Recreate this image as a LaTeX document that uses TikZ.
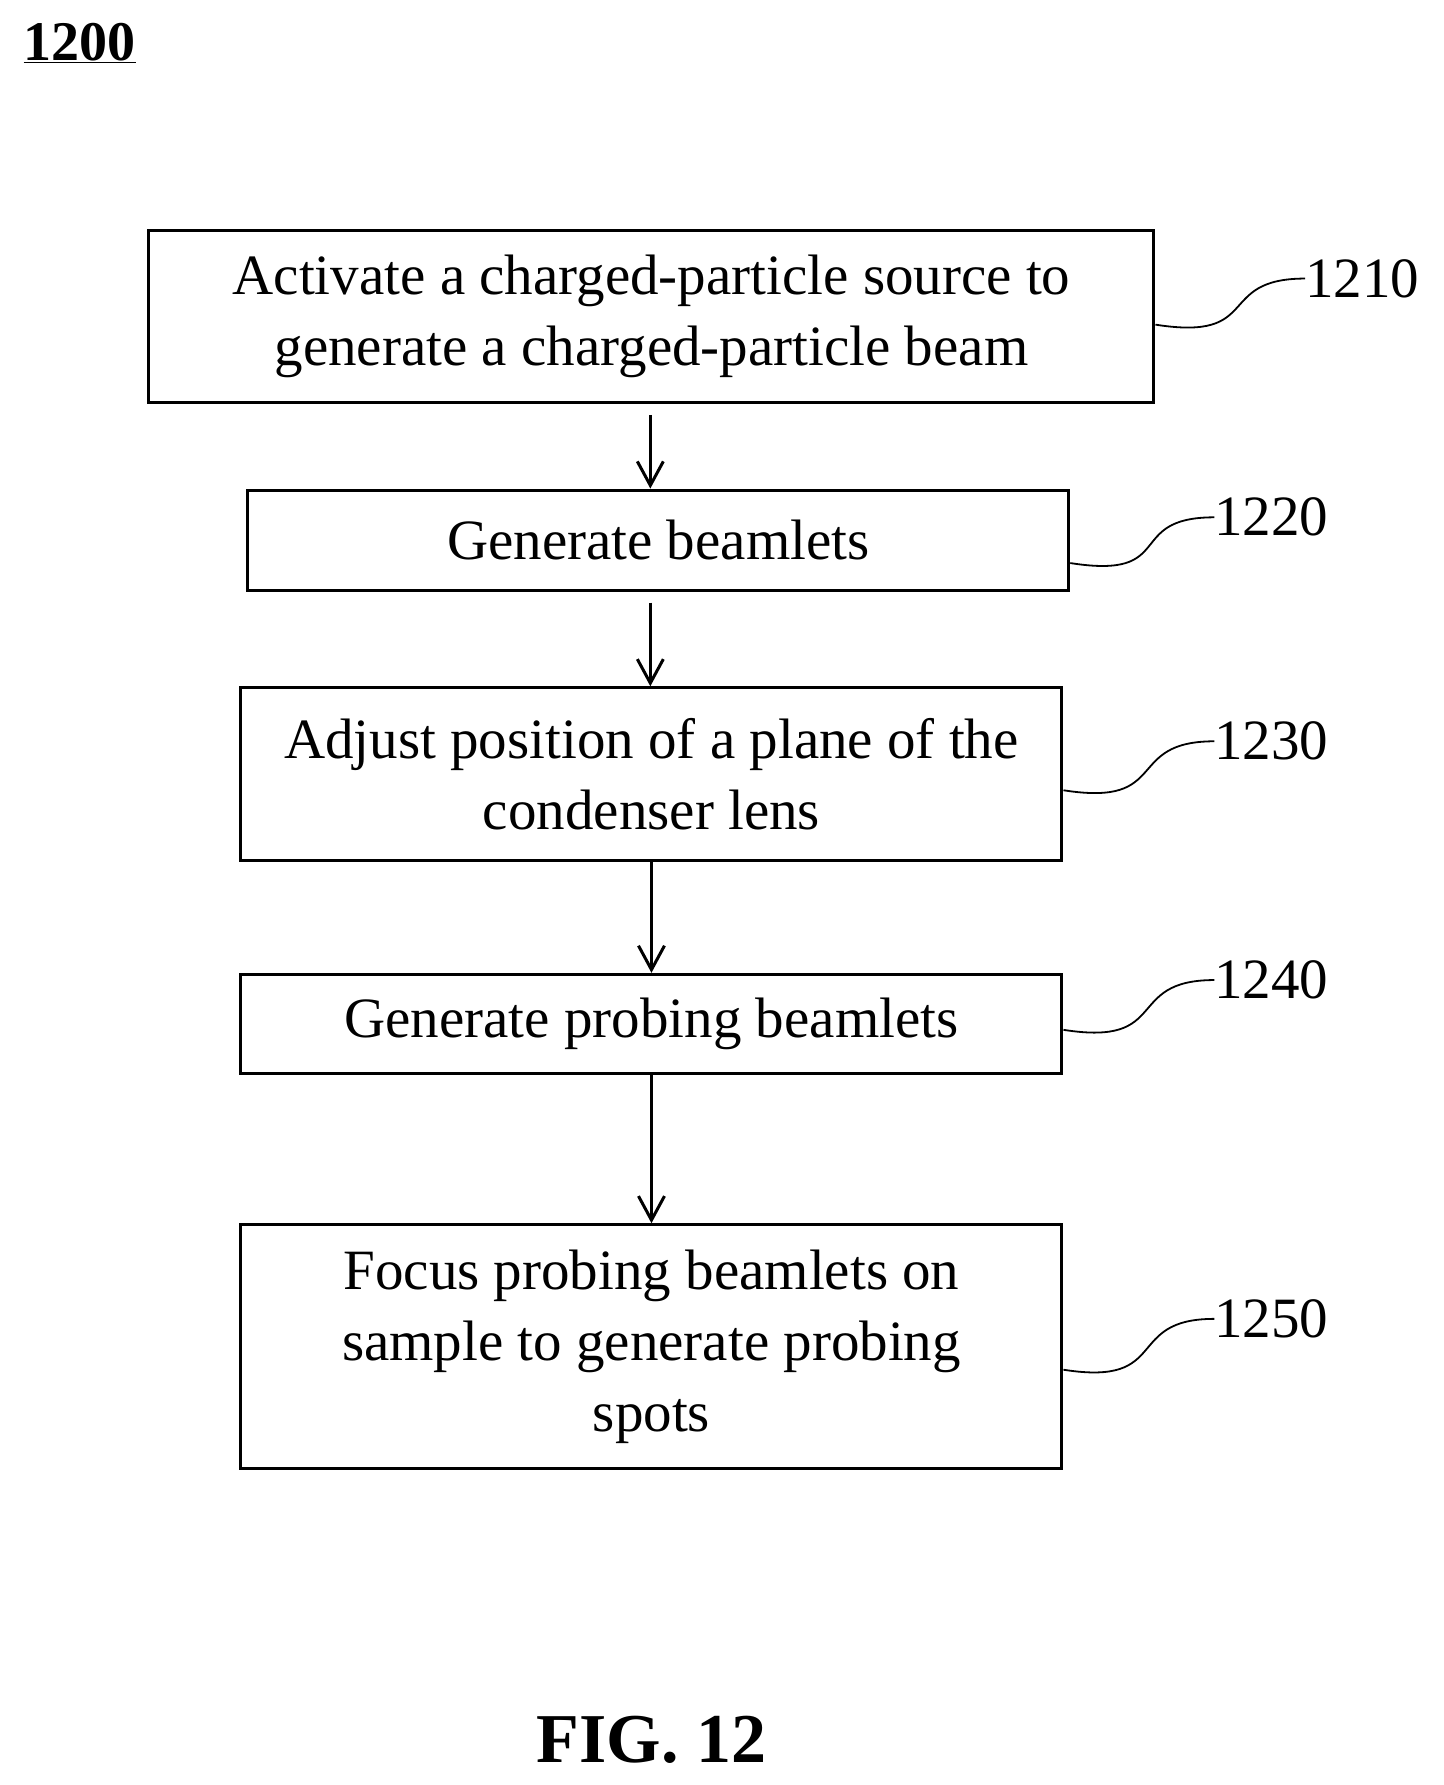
\documentclass[tikz,border=0pt]{standalone}
\usepackage{fontspec}
\setmainfont{Liberation Serif}
\usetikzlibrary{positioning,arrows.meta}
\tikzset{
  procbox/.style={draw,line width=3pt,align=center,inner sep=0pt,minimum width=821pt,
    font=\fontsize{57}{71}\selectfont},
  flow/.style={-{Straight Barb[length=24pt,width=26pt,line width=3pt]},line width=3pt},
  tag/.style={anchor=west,inner sep=0pt,font=\fontsize{57}{60}\selectfont},
  lead/.style={line width=1.8pt}
}
\begin{document}
\begin{tikzpicture}[x=1.137pt,y=-1.137pt]
\useasboundingbox (0,0) rectangle (1270,1570);

% title
\node[inner sep=0pt,font=\fontsize{56}{60}\selectfont\bfseries] (fignum) at (70,38) {\underline{1200}};

% steps
\node[procbox,minimum width=1005pt,minimum height=172pt] (s1210) at (573,278.5)
  {Activate a charged-particle source to\\generate a charged-particle beam};
\node[procbox,minimum height=100pt] (s1220) at (579,475) {Generate beamlets};
\node[procbox,minimum height=173pt] (s1230) at (573,681)
  {Adjust position of a plane of the\\condenser lens};
\node[procbox,minimum height=99pt] (s1240) at (573,900.5) {Generate probing beamlets};
\node[procbox,minimum height=244pt] (s1250) at (573,1184.5)
  {Focus probing beamlets on\\sample to generate probing\\spots};

% connectors
\coordinate (a1) at (572,365);
\coordinate (a2) at (572,530);
\draw[flow] (a1) -- (a1 |- s1220.north);
\draw[flow] (a2) -- (a2 |- s1230.north);
\draw[flow] (s1230.south) -- (s1240.north);
\draw[flow] (s1240.south) -- (s1250.north);

% reference numerals
\node[tag] (n1210) at (1148,245) {1210};
\node[tag] (n1220) at (1068,455) {1220};
\node[tag] (n1230) at (1068,652) {1230};
\node[tag] (n1240) at (1068,862) {1240};
\node[tag] (n1250) at (1068,1160) {1250};

\draw[lead] ([yshift=-8pt]s1210.east) .. controls +(95,15) and +(-80,0) .. (n1210.west);
\draw[lead] ([yshift=-23pt]s1220.east) .. controls +(95,15) and +(-80,0) .. (n1220.west);
\draw[lead] ([yshift=-16pt]s1230.east) .. controls +(95,15) and +(-80,0) .. (n1230.west);
\draw[lead] ([yshift=-6pt]s1240.east) .. controls +(95,15) and +(-80,0) .. (n1240.west);
\draw[lead] ([yshift=-23pt]s1250.east) .. controls +(95,15) and +(-80,0) .. (n1250.west);

\node[inner sep=0pt,font=\fontsize{70}{72}\selectfont\bfseries] (caption) at (573,1530) {FIG. 12};
\end{tikzpicture}
\end{document}
